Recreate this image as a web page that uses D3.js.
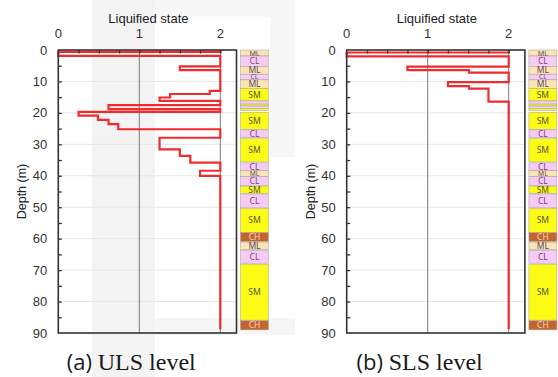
<!DOCTYPE html>
<html>
<head>
<meta charset="utf-8">
<script src="https://cdn.jsdelivr.net/npm/d3@7/dist/d3.min.js"></script>
<style>
  html, body { margin: 0; padding: 0; background: #fff; }
  svg { display: block; }
</style>
</head>
<body>
<svg id="chart" width="558" height="377"></svg>
<script>
// Liquefaction state vs depth, ULS and SLS levels, with the borehole soil column.
const depthTicks = [0, 10, 20, 30, 40, 50, 60, 70, 80, 90];
const stateTicks = [0, 1, 2];

// Step profiles: interval boundaries (m) and the state within each interval
const ulsDepth = [0, 0.6, 1.9, 5.2, 6.4, 13.0, 14.0, 15.1, 16.2, 17.5, 18.8, 19.7, 20.9, 22.2, 23.6, 25.2, 27.9, 31.6, 33.7, 35.8, 38.4, 40.0, 88.8];
const ulsState = [2, 0, 2, 1.5, 2, 1.87, 1.38, 1.25, 2, 0.62, 2, 0.25, 0.49, 0.62, 0.74, 2, 1.25, 1.5, 1.63, 2, 1.75, 2];

const slsDepth = [0, 0.8, 2.0, 5.3, 6.4, 7.2, 10.2, 11.5, 12.3, 16.4, 88.8];
const slsState = [2, 0, 2, 0.75, 1.51, 2, 1.25, 1.51, 1.75, 2];

// Soil column: layer tops, bottoms (m), USCS class and printed label
const soilTop    = [0, 1.9, 5.2, 7.7, 9.5, 12.2, 16.2, 17.2, 17.8, 18.6, 19.8, 25.4, 28.2, 35.9, 38.4, 40.3, 43.3, 45.8, 50.4, 58.1, 61.1, 63.7, 68.1, 86.1];
const soilBottom = [1.9, 5.2, 7.7, 9.5, 12.2, 16.2, 17.2, 17.8, 18.6, 19.2, 25.2, 27.9, 35.6, 38.3, 40.2, 43.2, 45.6, 50.2, 58.0, 60.9, 63.5, 67.8, 85.9, 89.0];
const soilType   = ["ML", "CL", "ML", "CL", "ML", "SM", "CL", "SM", "CL", "SM", "SM", "CL", "SM", "CL", "ML", "CL", "SM", "CL", "SM", "CH", "ML", "CL", "SM", "CH"];
const soilLabel  = ["ML", "CL", "ML", "CL", "ML", "SM", "", "", "", "", "SM", "CL", "SM", "CL", "ML", "CL", "SM", "CL", "SM", "CH", "ML", "CL", "SM", "CH"];

const soilFill = { ML: "#fbe4b3", CL: "#f6cbf4", SM: "#fbfb16", CH: "#c4652d" };
const soilText = { ML: "#5e4a66", CL: "#7a3f88", SM: "#5a5a3a", CH: "#f6d2b6" };

const svg = d3.select("#chart");

// faint background watermark
const wm = svg.append("g");
wm.append("rect").attr("x", 92).attr("y", 0).attr("width", 63).attr("height", 377).attr("fill", "#f3f3f3");
wm.append("rect").attr("x", 155).attr("y", 0).attr("width", 140).attr("height", 17).attr("fill", "#f7f7f7");
wm.append("rect").attr("x", 270).attr("y", 17).attr("width", 25).attr("height", 140).attr("fill", "#f7f7f7");
wm.append("rect").attr("x", 155).attr("y", 318).attr("width", 140).attr("height", 17).attr("fill", "#f6f6f6");

const panels = [
  { x0: 58.3, depth: ulsDepth, state: ulsState, tag: "(a) ", name: "ULS level" },
  { x0: 346.7, depth: slsDepth, state: slsState, tag: "(b) ", name: "SLS level" }
];

const plotW = 178.2;
const yTop = 50, yBot = 333;

panels.forEach(p => {
  const g = svg.append("g");
  const x = d3.scaleLinear().domain([0, 2.2]).range([p.x0, p.x0 + plotW]);
  const y = d3.scaleLinear().domain([0, 90]).range([yTop, yBot]);

  // horizontal grid
  g.append("g").selectAll("line").data(depthTicks.slice(1, -1)).join("line")
    .attr("x1", x(0)).attr("x2", x(2.2))
    .attr("y1", d => y(d)).attr("y2", d => y(d))
    .attr("stroke", "#e6e6e6").attr("stroke-width", 1);

  // vertical reference lines at states 1 and 2
  g.append("g").selectAll("line").data([1, 2]).join("line")
    .attr("x1", d => x(d)).attr("x2", d => x(d))
    .attr("y1", yTop).attr("y2", yBot)
    .attr("stroke", "#7a7a7a").attr("stroke-width", 1);

  // step profile
  const pts = [];
  p.state.forEach((s, i) => { pts.push([s, p.depth[i]]); pts.push([s, p.depth[i + 1]]); });
  const line = d3.line().x(d => x(d[0])).y(d => y(d[1]));
  g.append("path").datum(pts)
    .attr("d", line)
    .attr("fill", "none")
    .attr("stroke", "#ef2b2e")
    .attr("stroke-width", 2.2)
    .attr("stroke-linejoin", "miter");

  // top state axis, ticks pointing inward
  const xAxis = d3.axisTop(x).tickValues(d3.range(0.25, 2.2, 0.25)).tickSize(-3.5).tickFormat("");
  g.append("g").attr("transform", `translate(0,${yTop})`).call(xAxis)
    .call(a => a.select(".domain").remove())
    .call(a => a.selectAll("line").attr("stroke", "#333").attr("stroke-width", 1.3));
  g.append("g").selectAll("text").data(stateTicks).join("text")
    .attr("x", d => x(d)).attr("y", 38)
    .attr("text-anchor", "middle")
    .attr("font-family", "Liberation Sans, Arial, sans-serif")
    .attr("font-size", 13).attr("fill", "#333")
    .text(d => d);

  // depth axis, ticks every 5 m pointing inward
  const yAxis = d3.axisLeft(y).tickValues(d3.range(5, 90, 5)).tickSize(-3.5).tickFormat("");
  g.append("g").attr("transform", `translate(${x(0)},0)`).call(yAxis)
    .call(a => a.select(".domain").remove())
    .call(a => a.selectAll("line").attr("stroke", "#333").attr("stroke-width", 1.3));
  g.append("g").selectAll("text").data(depthTicks).join("text")
    .attr("x", x(0) - 11).attr("y", d => y(d) + 4.5)
    .attr("text-anchor", "end")
    .attr("font-family", "Liberation Sans, Arial, sans-serif")
    .attr("font-size", 13).attr("fill", "#333")
    .text(d => d);

  // frame
  g.append("rect")
    .attr("x", x(0)).attr("y", yTop)
    .attr("width", plotW).attr("height", yBot - yTop)
    .attr("fill", "none").attr("stroke", "#333").attr("stroke-width", 1.6);

  // axis titles
  g.append("text")
    .attr("x", p.x0 + plotW / 2 + 1).attr("y", 23)
    .attr("text-anchor", "middle")
    .attr("font-family", "Liberation Sans, Arial, sans-serif")
    .attr("font-size", 13).attr("fill", "#222")
    .text("Liquified state");
  g.append("text")
    .attr("transform", `translate(${p.x0 - 32},${(yTop + yBot) / 2}) rotate(-90)`)
    .attr("text-anchor", "middle")
    .attr("font-family", "Liberation Sans, Arial, sans-serif")
    .attr("font-size", 12.5).attr("fill", "#222")
    .text("Depth (m)");

  // soil column
  const cx = p.x0 + plotW + 4, cw = 28;
  const col = g.append("g");
  const idx = d3.range(soilTop.length);
  col.selectAll("rect").data(idx).join("rect")
    .attr("x", cx).attr("width", cw)
    .attr("y", i => y(soilTop[i]))
    .attr("height", i => y(soilBottom[i]) - y(soilTop[i]))
    .attr("fill", i => soilFill[soilType[i]])
    .attr("stroke", "#a0a0a0").attr("stroke-width", 0.5);
  // labels shrink to fit thin layers
  const layerH = i => y(soilBottom[i]) - y(soilTop[i]);
  const labelSize = i => Math.min(8.5, layerH(i) * 1.2);
  col.selectAll("text").data(idx.filter(i => soilLabel[i])).join("text")
    .attr("x", cx + cw / 2)
    .attr("y", i => (y(soilTop[i]) + y(soilBottom[i])) / 2 + labelSize(i) * 0.36)
    .attr("text-anchor", "middle")
    .attr("font-family", "Noto Sans, Open Sans, sans-serif")
    .attr("font-size", labelSize).attr("fill", i => soilText[soilType[i]])
    .text(i => soilLabel[i]);

  // caption
  const cap = g.append("text")
    .attr("x", p.x0 + 73).attr("y", 370)
    .attr("text-anchor", "middle")
    .attr("fill", "#1a1a1a");
  cap.append("tspan").attr("font-family", "Open Sans, Noto Sans, sans-serif").attr("font-size", 22).text(p.tag);
  cap.append("tspan").attr("font-family", "Liberation Serif, Times New Roman, serif").attr("font-size", 24).text(p.name);
});
</script>
</body>
</html>
